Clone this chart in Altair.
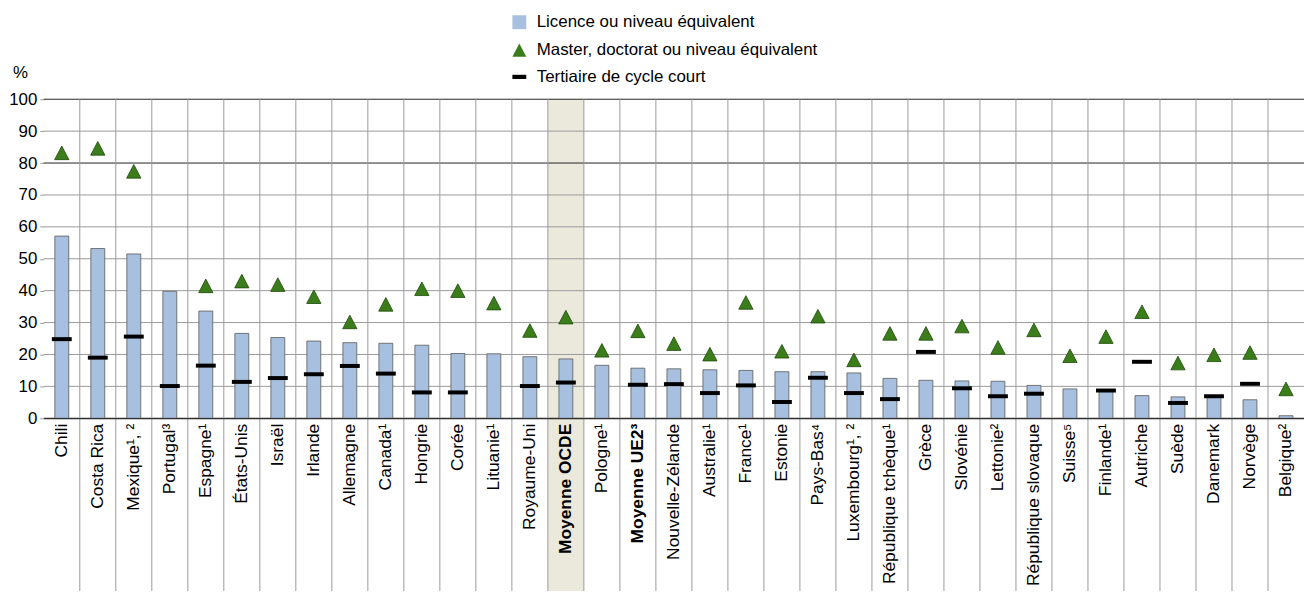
import altair as alt
import pandas as pd

countries = ["Chili", "Costa Rica", "Mexique¹, ²", "Portugal³", "Espagne¹", "États-Unis",
             "Israël", "Irlande", "Allemagne", "Canada¹", "Hongrie", "Corée", "Lituanie¹",
             "Royaume-Uni", "Moyenne OCDE", "Pologne¹", "Moyenne UE2³", "Nouvelle-Zélande",
             "Australie¹", "France¹", "Estonie", "Pays-Bas⁴", "Luxembourg¹, ²",
             "République tchèque¹", "Grèce", "Slovénie", "Lettonie²", "République slovaque",
             "Suisse⁵", "Finlande¹", "Autriche", "Suède", "Danemark", "Norvège", "Belgique²"]
licence = [57.1, 53.2, 51.5, 39.8, 33.6, 26.6, 25.3, 24.2, 23.7, 23.5, 22.9, 20.3, 20.2,
           19.3, 18.6, 16.6, 15.7, 15.5, 15.2, 15.0, 14.6, 14.6, 14.2, 12.5, 11.9, 11.7,
           11.6, 10.3, 9.2, 9.0, 7.1, 6.7, 6.5, 5.8, 0.8]
master = [83.2, 84.6, 77.4, None, 41.5, 43.0, 41.9, 38.1, 30.2, 35.7, 40.6, 40.0, 36.1,
          27.5, 31.7, 21.3, 27.4, 23.4, 20.1, 36.3, 21.0, 32.0, 18.3, 26.6, 26.6, 28.9,
          22.2, 27.7, 19.6, 25.6, 33.4, 17.3, 19.9, 20.6, 9.2]
tertiaire = [24.8, 19.0, 25.6, 10.1, 16.5, 11.4, 12.6, 13.8, 16.4, 14.0, 8.1, 8.1, None,
             10.1, 11.2, None, 10.5, 10.7, 7.9, 10.3, 5.1, 12.7, 7.9, 6.0, 20.8, 9.4,
             6.9, 7.7, None, 8.7, 17.7, 4.8, 6.9, 10.8, None]
series_names = ["Licence ou niveau équivalent", "Master, doctorat ou niveau équivalent",
                "Tertiaire de cycle court"]
y_ticks = list(range(0, 101, 10))
highlight_name = "Moyenne OCDE"
bold_names = ["Moyenne OCDE", "Moyenne UE2³"]

df = pd.DataFrame({"country": countries, "licence": licence,
                   "master": master, "tertiaire": tertiaire})
grid_df = pd.DataFrame({"v": y_ticks})

W, H = 1268, 321
FONT = "Liberation Sans"
BLUE = "#a7c0df"
GREEN = "#3a7d1a"
GRID = "#9a9a9a"

bold_test = " || ".join([f"datum.value === '{b}'" for b in bold_names])

xaxis = alt.Axis(title=None, labelAngle=-90, labelAlign="right", labelBaseline="middle",
                 labelFontSize=17.5, labelPadding=5, ticks=False, grid=False,
                 domain=True, domainColor="#222", labelOverlap=False, labelLimit=400,
                 labelColor="black", zindex=1,
                 labelFontWeight={"condition": {"test": bold_test, "value": "bold"},
                                  "value": "normal"})
xscale = alt.Scale(domain=countries, paddingInner=0, paddingOuter=0)
yaxis = alt.Axis(title="%", titleAngle=0, titleX=-24, titleY=-22, titleAlign="center",
                 titleBaseline="alphabetic", titleFontSize=17, titleFontWeight="normal",
                 values=y_ticks, labelFontSize=17, labelPadding=3, tickSize=4,
                 tickColor=GRID, domain=False, grid=False, labelColor="black")
yscale = alt.Scale(domain=[0, 100], nice=False)


def X(**kw):
    return alt.X("country:N", scale=xscale, axis=xaxis, **kw)


def Y(field):
    return alt.Y(field, scale=yscale, axis=yaxis)


base = alt.Chart(df)

beige = base.transform_filter(alt.datum.country == highlight_name).mark_rect(
    color="#ebe8dc").encode(x=X(), y=alt.value(0), y2=alt.value(H + 180))

hgrid = alt.Chart(grid_df).mark_rule(strokeWidth=1).encode(
    y=Y("v:Q"),
    color=alt.condition("datum.v == 0 || datum.v == 80 || datum.v == 100",
                        alt.value("#222"), alt.value(GRID)))

vgrid = base.transform_filter(alt.datum.country != countries[0]).mark_rule(
    color=GRID, strokeWidth=1).encode(
    x=X(bandPosition=0), y=alt.value(0), y2=alt.value(H + 180))

bars = base.mark_bar(size=14, fill=BLUE, stroke="#5a5a5a", strokeWidth=0.8).encode(
    x=X(), y=Y("licence:Q"))

ticks = base.transform_filter("isValid(datum.tertiaire)").mark_tick(
    orient="horizontal", size=20, thickness=4, color="black", opacity=1).encode(
    x=X(), y=Y("tertiaire:Q"))

tri_path = "M0,-0.95L1,0.95L-1,0.95Z"
dash_path = "M-1,-0.3L1,-0.3L1,0.3L-1,0.3Z"
legend = alt.Legend(title=None, orient="none", legendX=470, legendY=-86,
                    symbolSize=196, labelFontSize=17, labelOffset=9, rowPadding=9,
                    padding=0, symbolStrokeColor="#333", symbolStrokeWidth=0.8,
                    labelLimit=500, labelColor="black", symbolOpacity=1)

points = base.transform_filter("isValid(datum.master)").transform_calculate(
    series=f"'{series_names[1]}'").mark_point(
    filled=True, size=207, stroke="#1e4a0a", strokeWidth=0.8, opacity=1).encode(
    x=X(), y=Y("master:Q"),
    color=alt.Color("series:N", scale=alt.Scale(domain=series_names,
                                                range=[BLUE, GREEN, "black"]),
                    legend=legend),
    shape=alt.Shape("series:N", scale=alt.Scale(domain=series_names,
                                                range=["square", tri_path, dash_path]),
                    legend=legend))

chart = alt.layer(beige, hgrid, vgrid, bars, ticks, points).properties(
    width=W, height=H,
    padding={"left": 36, "top": 90, "right": 0, "bottom": 172},
    autosize=alt.AutoSizeParams(type="none"),
).configure(font=FONT).configure_view(stroke=None)

chart.save("out.html", embed_options={"renderer": "svg", "actions": False})
